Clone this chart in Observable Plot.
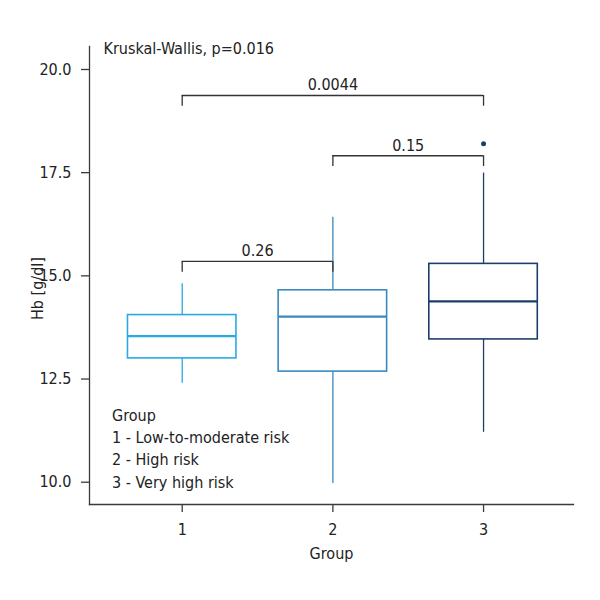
<!DOCTYPE html>
<html><head><meta charset="utf-8">
<script src="https://cdn.jsdelivr.net/npm/d3@7"></script>
<script src="https://cdn.jsdelivr.net/npm/@observablehq/plot@0.6"></script>
<style>body{margin:0;background:#fff}</style>
</head><body><div id="chart"></div>
<script>
// ---- data ----
const groups = [1, 2, 3];
const lowerWhisker = [12.40, 9.97, 11.21];
const q1 = [13.00, 12.68, 13.46];
const median = [13.54, 14.01, 14.38];
const q3 = [14.05, 14.65, 15.29];
const upperWhisker = [14.81, 16.42, 17.49];
const outlierGroup = [3];
const outlierValue = [18.20];
const bracketFrom = [1, 2, 1];
const bracketTo = [2, 3, 3];
const bracketY = [15.35, 17.91, 19.37];
const bracketLabel = ["0.26", "0.15", "0.0044"];
const yTicks = [10, 12.5, 15, 17.5, 20];
const xTicks = [1, 2, 3];
const legendLines = ["Group", "1 - Low-to-moderate risk", "2 - High risk", "3 - Very high risk"];
const testLabel = "Kruskal-Wallis, p=0.016";
const colors = ["#29abe2", "#3a89bf", "#1d3e6d"];

// ---- derived tables ----
const boxHalf = 0.36;
const bracketDrop = 0.26;
const boxes = groups.map((g, i) => ({
  g, lo: lowerWhisker[i], q1: q1[i], med: median[i], q3: q3[i], hi: upperWhisker[i]
}));
const outliers = outlierGroup.map((g, i) => ({g, v: outlierValue[i]}));
const brackets = bracketFrom.map((f, i) => ({f, t: bracketTo[i], y: bracketY[i], label: bracketLabel[i]}));
const bracketEnds = brackets.flatMap(b => [{x: b.f, y: b.y}, {x: b.t, y: b.y}]);

const FONT = "'DejaVu Sans Condensed', 'Liberation Sans Narrow', sans-serif";
const FS = 16;
const INK = "#222";
const AX = "#3a3a3a";

const chart = Plot.plot({
  width: 600,
  height: 600,
  marginLeft: 89,
  marginRight: 27,
  marginTop: 46,
  marginBottom: 96,
  style: {fontFamily: FONT, fontSize: FS + "px", color: INK, background: "#fff"},
  x: {type: "linear", domain: [0.3847, 3.597]},
  y: {domain: [9.46, 20.557]},
  color: {domain: groups, range: colors},
  marks: [
    Plot.frame({anchor: "left", stroke: AX, strokeWidth: 1.3}),
    Plot.frame({anchor: "bottom", stroke: AX, strokeWidth: 1.3}),
    Plot.axisY({ticks: yTicks, tickFormat: d => d.toFixed(1), tickSize: 8, tickPadding: 10, stroke: AX, strokeWidth: 1.3, fill: INK, label: null, fontSize: FS}),
    Plot.axisX({ticks: xTicks, tickFormat: d => String(d), tickSize: 8, tickPadding: 11, stroke: AX, strokeWidth: 1.3, fill: INK, label: null, fontSize: FS}),
    // whiskers
    Plot.ruleX(boxes, {x: "g", y1: "lo", y2: "q1", stroke: "g", strokeWidth: 1.3}),
    Plot.ruleX(boxes, {x: "g", y1: "q3", y2: "hi", stroke: "g", strokeWidth: 1.3}),
    // boxes
    Plot.rect(boxes, {x1: d => d.g - boxHalf, x2: d => d.g + boxHalf, y1: "q1", y2: "q3", fill: "white", stroke: "g", strokeWidth: 1.6}),
    // medians
    Plot.ruleY(boxes, {y: "med", x1: d => d.g - boxHalf, x2: d => d.g + boxHalf, stroke: "g", strokeWidth: 2.2}),
    // outliers
    Plot.dot(outliers, {x: "g", y: "v", r: 2.5, fill: "g", stroke: null}),
    // brackets
    Plot.ruleY(brackets, {y: "y", x1: "f", x2: "t", stroke: "#333", strokeWidth: 1.3}),
    Plot.ruleX(bracketEnds, {x: "x", y1: d => d.y - bracketDrop, y2: "y", stroke: "#333", strokeWidth: 1.3}),
    Plot.text(brackets, {x: d => (d.f + d.t) / 2, y: "y", text: "label", lineAnchor: "bottom", dy: -5, fill: INK, fontSize: FS}),
    // annotations
    Plot.text([testLabel], {frameAnchor: "top-left", text: d => d, textAnchor: "start", lineAnchor: "bottom", dx: 14, dy: 7.3, fill: INK, fontSize: FS}),
    Plot.text([legendLines.join("\n")], {frameAnchor: "bottom-left", text: d => d, textAnchor: "start", lineAnchor: "bottom", lineHeight: 22.2 / FS, dx: 22.5, dy: -17, fill: INK, fontSize: FS}),
    Plot.text(["Hb [g/dl]"], {frameAnchor: "left", text: d => d, rotate: -90, textAnchor: "middle", lineAnchor: "middle", dx: -52, dy: 13, fill: INK, fontSize: FS}),
    Plot.text(["Group"], {frameAnchor: "bottom", text: d => d, textAnchor: "middle", lineAnchor: "bottom", dy: 54.5, fill: INK, fontSize: FS})
  ]
});
document.getElementById("chart").appendChild(chart);
</script>
</body></html>
